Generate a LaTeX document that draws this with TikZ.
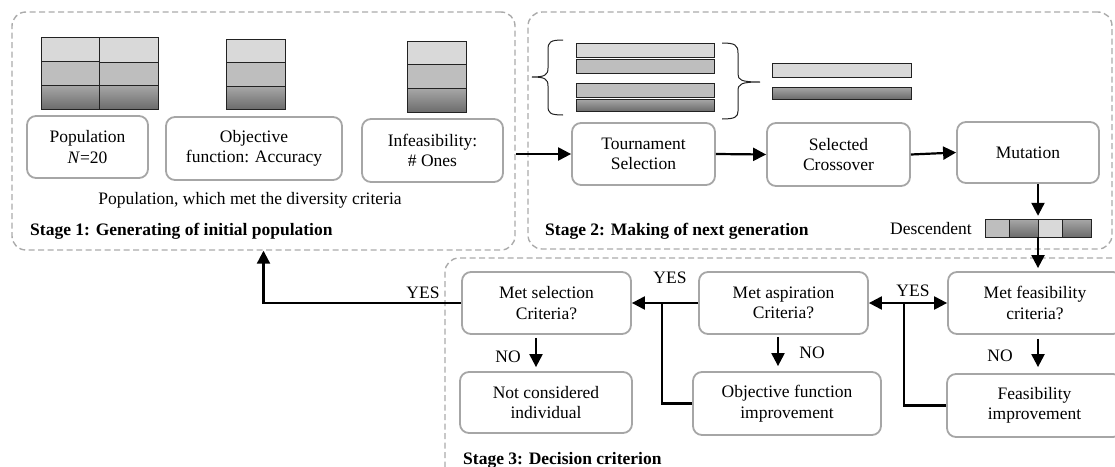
\documentclass[tikz,border=0pt]{standalone}
\usepackage{fontspec}
\setmainfont{Liberation Serif}
\usetikzlibrary{arrows.meta,calc}
\definecolor{boxgray}{HTML}{A6A6A6}
\definecolor{dashgray}{HTML}{ABABAB}
\definecolor{lightc}{HTML}{D9D9D9}
\definecolor{midc}{HTML}{BEBEBE}
\definecolor{darktop}{HTML}{A8A8A8}
\definecolor{darkbot}{HTML}{6C6C6C}
\definecolor{cellline}{HTML}{222222}
\newcommand\fs{\fontsize{17.5}{20.5}\selectfont}
\begin{document}
\begin{tikzpicture}[x=1pt,y=-1pt,
  every node/.style={font=\fs},
  box/.style={draw=boxgray, line width=1.8pt, rounded corners=9pt, align=center, inner sep=0pt},
  stagebox/.style={draw=dashgray, line width=1.4pt, dash pattern=on 6pt off 3.5pt, rounded corners=14pt, inner sep=0pt},
  tip/.tip={Triangle[length=13pt,width=13pt]},
  arr/.style={line width=2.2pt, -tip},
  conn/.style={line width=2.2pt},
  cellL/.style={draw=cellline, line width=1pt, fill=lightc},
  cellM/.style={draw=cellline, line width=1pt, fill=midc},
  cellD/.style={draw=cellline, line width=1pt, top color=darktop, bottom color=darkbot},
  lbl/.style={inner sep=0pt},
  stagelbl/.style={inner sep=0pt, anchor=base west, font=\bfseries\fs},
  brace/.style={line width=1pt, draw=cellline}
]
\useasboundingbox (0,0) rectangle (1115,466);
\clip (0,0) rectangle (1115,466);

% stage boxes
\node[stagebox, minimum width=503pt, minimum height=238pt] (s1) at (263.5,131) {};
\node[stagebox, minimum width=584pt, minimum height=237pt] (s2) at (820,130.5) {};
\node[stagebox, minimum width=700pt, minimum height=240pt] (s3) at (795,378) {};

% stage 1 chromosome stacks
\draw[cellL] (41,37) rectangle (99,61);
\draw[cellL] (99,37) rectangle (158,62);
\draw[cellM] (41,61) rectangle (99,85);
\draw[cellM] (99,62) rectangle (158,85);
\draw[cellD] (41,85) rectangle (99,109);
\draw[cellD] (99,85) rectangle (158,109);

\draw[cellL] (226,39) rectangle (285,62);
\draw[cellM] (226,62) rectangle (285,86);
\draw[cellD] (226,86) rectangle (285,109);

\draw[cellL] (407,41) rectangle (466,64);
\draw[cellM] (407,64) rectangle (466,88);
\draw[cellD] (407,88) rectangle (466,112);

% stage 1 boxes
\node[box, minimum width=121pt, minimum height=62pt] (pop) at (87.5,147) {Population\\\textit{N}=20};
\node[box, minimum width=176pt, minimum height=63pt] (obj) at (254,148.5) {Objective\\function: Accuracy};
\node[box, minimum width=141pt, minimum height=63pt] (inf) at (432.5,150.5) {Infeasibility:\\\# Ones};
\node[lbl] (div) at (250,200) {Population, which met the diversity criteria};
\node[stagelbl] (l1) at (30,235) {Stage 1: Generating of initial population};

% stage 2 bars and braces
\draw[brace] (563,40) .. controls (550,40) and (548,42) .. (548,50) -- (548,68)
  .. controls (548,75) and (545,77) .. (532,77)
  .. controls (545,77) and (548,79) .. (548,86) -- (548,106)
  .. controls (548,113) and (550,115) .. (563,115);
\draw[cellL] (576,43) rectangle (714,57);
\draw[cellM] (576,59) rectangle (714,73);
\draw[cellM] (576,83) rectangle (714,97);
\draw[cellD] (576,99) rectangle (714,111);
\draw[brace] (722,43) .. controls (735,43) and (738,45) .. (738,53) -- (738,74)
  .. controls (738,80) and (741,82) .. (760,82)
  (760,82) .. controls (741,82) and (738,84) .. (738,91) -- (738,111)
  .. controls (738,117) and (735,119) .. (722,119);
\draw[cellL] (772,63) rectangle (911,77);
\draw[cellD] (772,87) rectangle (911,99);

% stage 2 boxes
\node[box, minimum width=143pt, minimum height=62pt] (tour) at (643.5,154) {Tournament\\Selection};
\node[box, minimum width=143pt, minimum height=63pt] (cross) at (838.5,154.5) {Selected\\Crossover};
\node[box, minimum width=142pt, minimum height=61pt] (mut) at (1028,152.5) {Mutation};
\node[stagelbl] (l2) at (545,235) {Stage 2: Making of next generation};

% descendent
\node[lbl, anchor=east] (desclab) at (972,229) {Descendent};
\node[inner sep=0pt, minimum width=106pt, minimum height=18pt] (desc) at (1038,228) {};
\draw[cellM] (985,219) rectangle (1009,237);
\draw[cellD] (1009,219) rectangle (1038,237);
\draw[cellL] (1038,219) rectangle (1062,237);
\draw[cellD] (1062,219) rectangle (1091,237);

% stage 3 boxes
\node[box, minimum width=169pt, minimum height=62pt] (sel) at (546.5,303) {Met selection\\Criteria?};
\node[box, minimum width=172pt, minimum height=61pt] (notc) at (546,402.5) {Not considered\\individual};
\node[box, minimum width=169pt, minimum height=62pt] (asp) at (783.5,303) {Met aspiration\\Criteria?};
\node[box, minimum width=188pt, minimum height=63pt] (objimp) at (787,403.5) {Objective function\\improvement};
\node[box, minimum width=174pt, minimum height=62pt] (feas) at (1035,303) {Met feasibility\\criteria?};
\node[box, minimum width=175pt, minimum height=63pt] (feasimp) at (1034.5,405.5) {Feasibility\\improvement};
\node[stagelbl] (l3) at (463,464) {Stage 3: Decision criterion};

% labels
\node[lbl] (yes1) at (423,293) {YES};
\node[lbl] (yes2) at (670,278) {YES};
\node[lbl] (yes3) at (913,291) {YES};
\node[lbl] (no1) at (508,357) {NO};
\node[lbl] (no2) at (812,353) {NO};
\node[lbl] (no3) at (1000,356) {NO};

% connectors
\draw[arr] (tour.west -| s1.east) -- (tour.west);
\draw[arr] (tour.east) -- (cross.west);
\draw[arr] (cross.east) -- (mut.west);
\draw[arr, shorten >=3pt] (desc.north |- mut.south) -- (desc.north);
\draw[arr, shorten >=3pt] (desc.south) -- (desc.south |- feas.north);
\draw[arr] (sel.west) -| (s1.south);
\draw[arr] (asp.west) -- (sel.east);
\coordinate (j1) at (662,303);
\draw[conn] (objimp.west) -| (j1);
\draw[conn, tip-tip] (asp.east) -- (feas.west);
\coordinate (j2) at (904,303);
\draw[conn] (feasimp.west) -| (j2);
\draw[arr, shorten <=3pt, shorten >=4pt] ([xshift=-10.5pt]sel.south) -- ([xshift=-10pt]notc.north);
\draw[arr, shorten <=2pt, shorten >=5pt] ([xshift=-5.5pt]asp.south) -- ([xshift=-5.5pt]asp.south |- objimp.north);
\draw[arr, shorten <=4pt, shorten >=6pt] (desc.south |- feas.south) -- (desc.south |- feasimp.north);
\end{tikzpicture}
\end{document}
